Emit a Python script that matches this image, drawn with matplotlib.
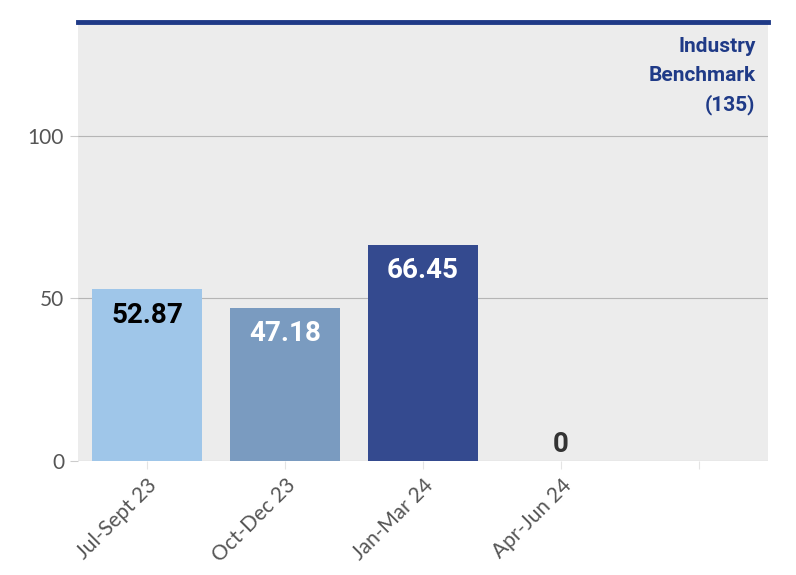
import matplotlib.pyplot as plt

# Chart data
categories = ['Jul-Sept 23', 'Oct-Dec 23', 'Jan-Mar 24', 'Apr-Jun 24', '']
values = [52.87, 47.18, 66.45, 0, None]
bar_colors = ['#9fc6e9', '#7a9bc0', '#344a8f', '#344a8f', '#344a8f']
label_colors = ['#000000', '#ffffff', '#ffffff', '#333333', '#333333']
benchmark = 135
yticks = [0, 50, 100]

plt.rcParams['font.family'] = ['Lato', 'DejaVu Sans']
bold_font = ['Roboto', 'DejaVu Sans']

fig = plt.figure(figsize=(7.96, 5.75), dpi=100)
ax = fig.add_axes([78 / 796, 114 / 575, 690 / 796, 439 / 575])
ax.set_facecolor('#ececec')

x = list(range(len(categories)))
for i, v in enumerate(values):
    if v is None:
        continue
    ax.bar(i, v, width=0.8, color=bar_colors[i], zorder=2)
    if v > 5:
        ax.annotate(f'{v:.2f}', (i, v), xytext=(0, -9), textcoords='offset points',
                    ha='center', va='top', fontsize=20, fontweight='bold',
                    family=bold_font, color=label_colors[i], zorder=3)
    else:
        ax.annotate(f'{v:g}', (i, v), xytext=(0, 2), textcoords='offset points',
                    ha='center', va='bottom', fontsize=20, fontweight='bold',
                    family=bold_font, color=label_colors[i], zorder=3)

# Benchmark line
ax.axhline(benchmark, color='#1f3a87', linewidth=3.5, zorder=4, clip_on=False)
ax.text(4.41, 130.3, 'Industry\nBenchmark\n(135)', ha='right', va='top',
        fontsize=15, fontweight='bold', family=bold_font, color='#1f3a87',
        linespacing=1.62)

ax.set_xlim(-0.5, 4.5)
ax.set_ylim(0, benchmark)
ax.set_yticks(yticks)
ax.set_xticks(x)
ax.set_xticklabels(categories, rotation=45, ha='right', rotation_mode='anchor')
ax.grid(axis='y', color='#b5b5b5', linewidth=0.8, zorder=1)
ax.tick_params(axis='y', length=6, color='#cccccc', labelsize=15, labelcolor='#555555', pad=4)
ax.tick_params(axis='x', length=6, color='#e4e4e4', labelsize=15, labelcolor='#555555', pad=4)
for s in ax.spines.values():
    s.set_visible(False)

fig.savefig('out.png', dpi=100)
